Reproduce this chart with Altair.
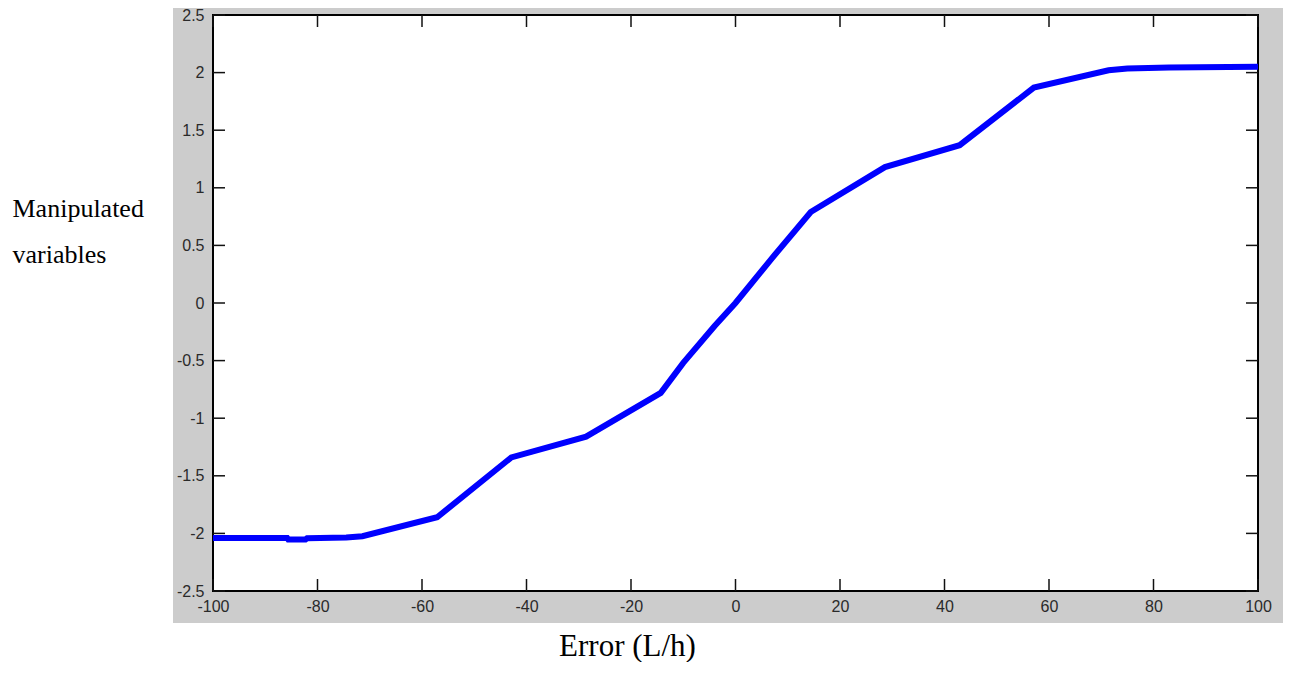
import altair as alt
import pandas as pd

# ---- data ----
error_x = [-100, -85.8, -85.6, -82.3, -82, -74.5, -71.4, -57.1, -42.9, -28.6, -14.3, -10, -4,
           0, 7, 14.4, 28.6, 42.9, 57.1, 71.4, 75, 83, 100]
mv_y = [-2.04, -2.04, -2.052, -2.052, -2.042, -2.035, -2.025, -1.86, -1.34, -1.16, -0.78, -0.52, -0.2,
        0.0, 0.39, 0.79, 1.18, 1.37, 1.87, 2.02, 2.035, 2.045, 2.05]
x_ticks = [-100, -80, -60, -40, -20, 0, 20, 40, 60, 80, 100]
y_ticks = [-2.5, -2, -1.5, -1, -0.5, 0, 0.5, 1, 1.5, 2, 2.5]

W, H = 1045, 576
TICK = 12

df = pd.DataFrame({"error": error_x, "mv": mv_y})
xt = pd.DataFrame({"error": x_ticks})
yt = pd.DataFrame({"mv": y_ticks})
one = pd.DataFrame({"a": [0]})

xscale = alt.Scale(domain=[-100, 100], nice=False, zero=False)
yscale = alt.Scale(domain=[-2.5, 2.5], nice=False, zero=False)

common_axis = dict(
    grid=False, domain=False, ticks=False, tickSize=0, zindex=1,
    labelFont="Liberation Sans", labelFontSize=16, labelColor="#2a2a2a",
    labelFlush=False, labelOverlap=False, labelExpr="toString(datum.value)",
    titleFont="Liberation Serif", titleFontWeight="normal", titleColor="black",
)

gray = alt.Chart(one).mark_rect(fill="#CCCCCC").encode(
    x=alt.value(-40), x2=alt.value(W + 25), y=alt.value(-8), y2=alt.value(H + 32)
)
white = alt.Chart(one).mark_rect(fill="white", stroke="black", strokeWidth=2).encode(
    x=alt.value(0), x2=alt.value(W), y=alt.value(0), y2=alt.value(H)
)

tick_style = dict(color="#111111", strokeWidth=1.5)
bottom_ticks = alt.Chart(xt).mark_rule(**tick_style).encode(
    x=alt.X("error:Q", scale=xscale), y=alt.value(H), y2=alt.value(H - TICK)
)
top_ticks = alt.Chart(xt).mark_rule(**tick_style).encode(
    x=alt.X("error:Q", scale=xscale), y=alt.value(0), y2=alt.value(TICK)
)
left_ticks = alt.Chart(yt).mark_rule(**tick_style).encode(
    y=alt.Y("mv:Q", scale=yscale), x=alt.value(0), x2=alt.value(TICK)
)
right_ticks = alt.Chart(yt).mark_rule(**tick_style).encode(
    y=alt.Y("mv:Q", scale=yscale), x=alt.value(W), x2=alt.value(W - TICK)
)

line = alt.Chart(df).mark_line(color="#0000FF", strokeWidth=6, strokeJoin="miter").encode(
    x=alt.X("error:Q", scale=xscale,
            axis=alt.Axis(values=x_ticks, title="Error (L/h)", labelPadding=7,
                          titleFontSize=31, titleAngle=0, titleAlign="center",
                          titleBaseline="alphabetic", titleX=414, titleY=64,
                          **common_axis)),
    y=alt.Y("mv:Q", scale=yscale,
            axis=alt.Axis(values=y_ticks, title=["Manipulated", "variables"], labelPadding=9,
                          titleFontSize=26, titleAngle=0, titleAlign="left",
                          titleBaseline="alphabetic", titleLineHeight=46,
                          titleX=-201, titleY=201,
                          **common_axis)),
)

chart = alt.layer(
    gray, white, bottom_ticks, top_ticks, left_ticks, right_ticks, line
).properties(
    width=W, height=H,
    autosize=alt.AutoSizeParams(type="none"),
    padding={"left": 205, "top": 7, "right": 25, "bottom": 71},
    background="white",
).configure_view(stroke=None)

chart.save("out.html", embed_options={"renderer": "svg", "actions": False})
